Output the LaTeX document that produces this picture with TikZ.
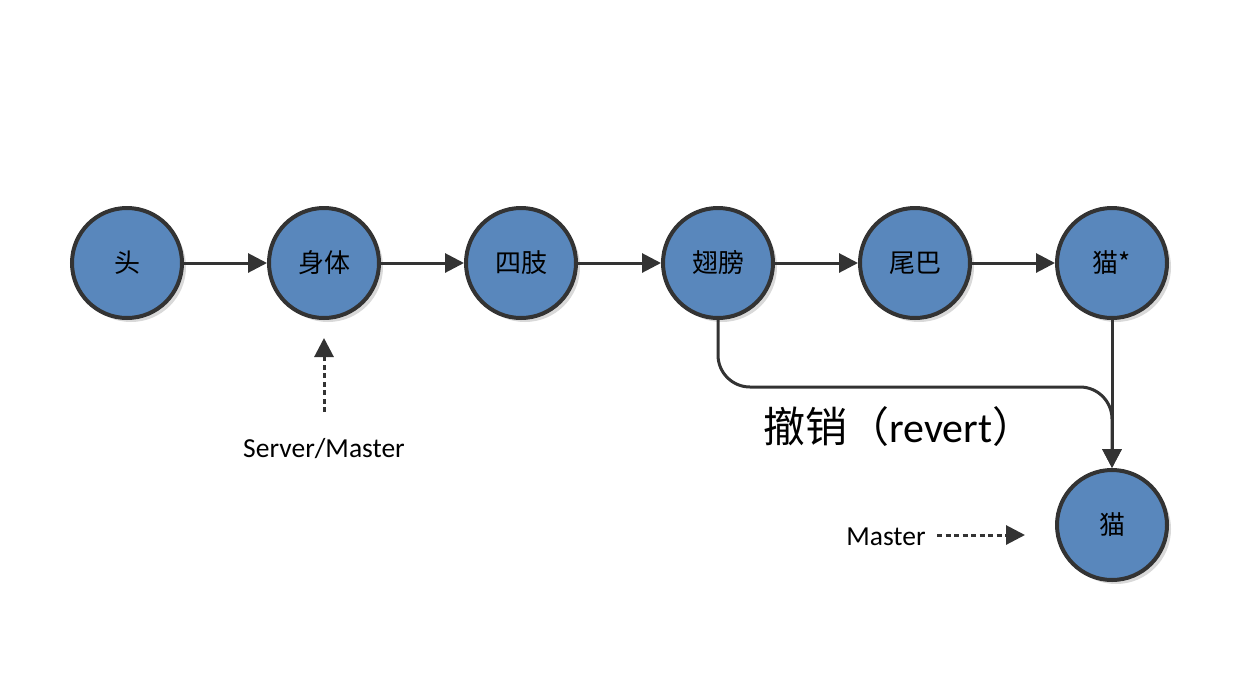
\documentclass[tikz,border=0pt]{standalone}
\usepackage{fontspec}
\setmainfont{Carlito}
\newfontfamily\cjk{Noto Sans CJK SC}
\usetikzlibrary{arrows.meta,shadows}
\definecolor{nodefill}{HTML}{5987BC}
\definecolor{edge}{HTML}{333333}
\tikzset{
  commit/.style={circle, minimum size=110pt, inner sep=0pt, fill=nodefill, draw=edge, line width=4pt,
    font=\cjk\fontsize{26}{30}\selectfont,
    drop shadow={shadow xshift=4pt, shadow yshift=-4pt, fill=black!15, opacity=1}},
  link/.style={draw=edge, line width=3pt, -{Triangle[length=19pt,width=19pt]}},
  ptr/.style={draw=edge, line width=3pt, dash pattern=on 5pt off 3.5pt, -{Triangle[length=19pt,width=19pt]}},
  lbl/.style={font=\fontsize{27.5}{32}\selectfont, text=black}
}
\begin{document}
\begin{tikzpicture}[x=1pt,y=-1pt]
\useasboundingbox (0,0) rectangle (1250,678);
\node[commit] (a) at (127,263) {头};
\node[commit] (b) at (324,263) {身体};
\node[commit] (c) at (521,263) {四肢};
\node[commit] (d) at (718,263) {翅膀};
\node[commit] (e) at (915,263) {尾巴};
\node[commit] (f) at (1112,263) {猫*};
\node[commit] (g) at (1112,525) {猫};
\draw[link] (a) -- (b);
\draw[link] (b) -- (c);
\draw[link] (c) -- (d);
\draw[link] (d) -- (e);
\draw[link] (e) -- (f);
\draw[link] (f) -- (g);
\draw[link, rounded corners=32pt] (d.south) -- ++(0,67) -| (g.north);
\node[font=\fontsize{42}{48}\selectfont, anchor=west, inner sep=0pt] (rv) at (763,427) {{\cjk 撤销（}revert{\cjk ）}};
\node[lbl] (sm) at (324,449) {Server/Master};
\coordinate (smt) at (324,412);
\draw[ptr] (smt) -- (324,338);
\node[lbl] (ms) at (886,537) {Master};
\coordinate (mst) at (1025,535);
\draw[ptr] (ms.east) ++(8,-2) coordinate (mss) -- (mst);
\end{tikzpicture}
\end{document}
